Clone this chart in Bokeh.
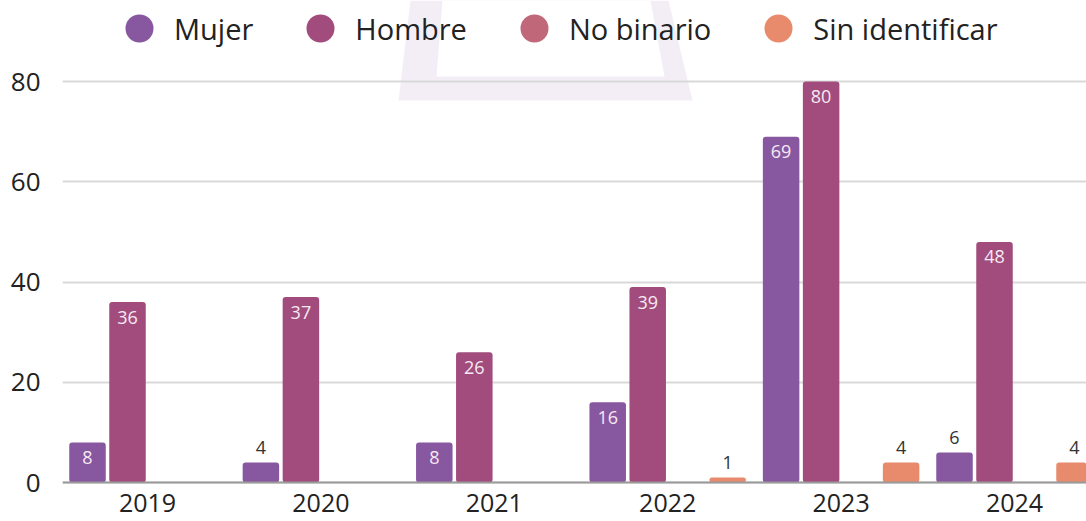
from bokeh.plotting import figure
from bokeh.models import (Range1d, FixedTicker, Legend, LegendItem, ColumnDataSource,
                          PolyAnnotation)
from bokeh.core.properties import value
from bokeh.embed import file_html
from bokeh.resources import INLINE

# ---- data ----
years = ["2019", "2020", "2021", "2022", "2023", "2024"]
series_names = ["Mujer", "Hombre", "No binario", "Sin identificar"]
mujer = [8, 4, 8, 16, 69, 6]
hombre = [36, 37, 26, 39, 80, 48]
no_binario = [0, 0, 0, 0, 0, 0]
sin_identificar = [0, 0, 0, 1, 4, 4]
y_ticks = [0, 20, 40, 60, 80]

# ---- style ----
colors = ["#8757a0", "#a14c7c", "#c0687a", "#e88a6c"]
FONT = "Open Sans"
offsets = [-0.3460, -0.1153, 0.1153, 0.3460]
bar_w = 0.2105
W, H, LEFT = 1086, 521, 62

p = figure(width=W, height=H, output_backend="svg", toolbar_location=None,
           x_range=Range1d(-0.4902, 5.4152), y_range=Range1d(-7.78, 96.16),
           min_border_left=LEFT, min_border_right=0, min_border_top=0,
           min_border_bottom=0)
p.outline_line_color = None
p.background_fill_color = "white"
p.border_fill_color = "white"

# faint background watermark (decorative; frame-relative screen units, y up)
def wm(xs, ys, color):
    return PolyAnnotation(xs=[x - LEFT for x in xs], ys=[H - y for y in ys],
                          xs_units="screen", ys_units="screen",
                          fill_color=color, fill_alpha=1.0, line_color=None,
                          level="image")

p.add_layout(wm([410, 398, 692, 668], [0, 100, 100, 0], "#f3eef6"))
p.add_layout(wm([442, 436, 664, 650], [0, 76, 76, 0], "white"))

all_series = [mujer, hombre, no_binario, sin_identificar]
lab = dict(x=[], y=[], text=[], color=[], yoff=[])
for j, vals in enumerate(all_series):
    xs = [i + offsets[j] for i in range(len(years))]
    p.vbar(x=xs, top=vals, bottom=0, width=bar_w, fill_color=colors[j],
           line_color=None, border_radius=3)
    for x, v in zip(xs, vals):
        if v <= 0:
            continue
        inside = v >= 8
        lab["x"].append(x)
        lab["y"].append(v)
        lab["text"].append(str(v))
        lab["color"].append("#f7e9f3" if inside else "#333333")
        lab["yoff"].append(15 if inside else -15)

src = ColumnDataSource(lab)
p.text(x="x", y="y", text="text", source=src, text_color="color", y_offset="yoff",
       text_align="center", text_baseline="middle", text_font=value(FONT),
       text_font_size="18px")

# legend with circle markers
nan = float("nan")
items = []
for j, name in enumerate(series_names):
    r = p.scatter(x=[nan], y=[nan], marker="circle", fill_color=colors[j],
                  line_color=None)
    items.append(LegendItem(label=name, renderers=[r]))
legend = Legend(items=items, orientation="horizontal", location=(42, 458),
                glyph_width=70, glyph_height=70, label_standoff=0, spacing=32,
                padding=0, margin=0, border_line_color=None, background_fill_alpha=0,
                label_text_font=FONT, label_text_font_size="29px",
                label_text_color="#222222")
p.add_layout(legend)

# axes
p.xgrid.visible = False
p.ygrid.ticker = FixedTicker(ticks=y_ticks)
p.ygrid.grid_line_color = "#d9d9d9"
p.ygrid.grid_line_width = 2

p.yaxis.ticker = FixedTicker(ticks=y_ticks)
p.yaxis.axis_line_color = None
p.yaxis.major_tick_line_color = None
p.yaxis.minor_tick_line_color = None
p.yaxis.major_label_standoff = 16
p.yaxis.major_label_text_font = FONT
p.yaxis.major_label_text_font_size = "26px"
p.yaxis.major_label_text_color = "#222222"

p.xaxis.ticker = FixedTicker(ticks=list(range(len(years))))
p.xaxis.major_label_overrides = {i: y for i, y in enumerate(years)}
p.xaxis.fixed_location = 0
p.xaxis.axis_line_color = "#9a9a9a"
p.xaxis.axis_line_width = 2
p.xaxis.major_tick_line_color = None
p.xaxis.minor_tick_line_color = None
p.xaxis.major_label_standoff = 5
p.xaxis.major_label_text_font = FONT
p.xaxis.major_label_text_font_size = "25px"
p.xaxis.major_label_text_color = "#222222"

open("out.html", "w").write(file_html(p, INLINE))
